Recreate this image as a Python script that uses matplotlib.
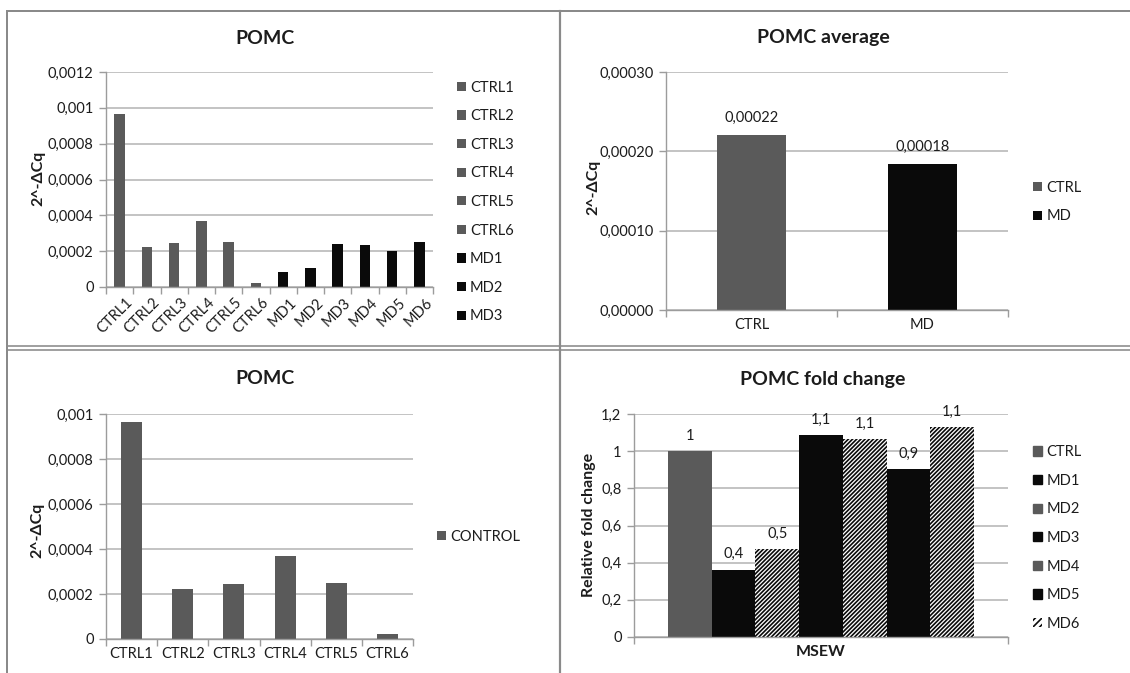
import matplotlib
matplotlib.use("Agg")
import matplotlib.pyplot as plt
from matplotlib.patches import Patch
from matplotlib.lines import Line2D
from matplotlib.transforms import ScaledTranslation
import numpy as np

# POMC expression per animal (2^-dCq)
samples = ["CTRL1", "CTRL2", "CTRL3", "CTRL4", "CTRL5", "CTRL6",
           "MD1", "MD2", "MD3", "MD4", "MD5", "MD6"]
expr = [0.000964, 0.000223, 0.000243, 0.000368, 0.000249, 0.0000223,
        0.0000817, 0.000104, 0.000240, 0.000236, 0.000202, 0.000251]

# group means
groups = ["CTRL", "MD"]
group_mean = [0.000221, 0.000184]

# control animals only
control_samples = ["CTRL1", "CTRL2", "CTRL3", "CTRL4", "CTRL5", "CTRL6"]
control_expr = [0.000964, 0.000223, 0.000243, 0.000368, 0.000249, 0.0000223]

# relative fold change, MSEW
fold_category = "MSEW"
fold_series = ["CTRL", "MD1", "MD2", "MD3", "MD4", "MD5", "MD6"]
fold_change = [1.0, 0.363, 0.471, 1.087, 1.065, 0.905, 1.128]

W, H = 1130, 673
plt.rcParams['font.family'] = ['Lato', 'DejaVu Sans']
plt.rcParams['hatch.linewidth'] = 1.2
fig = plt.figure(figsize=(W / 100, H / 100), dpi=100)
fig.patch.set_facecolor('white')

GREY = '#5a5a5a'
BLACK = '#0a0a0a'
GRID = '#b9b9b9'
AXIS = '#9c9c9c'
TXT = '#1c1c1c'
FRAME = '#8a8a8a'
FS = 10.5
HATCH = '/' * 8


def px_axes(x0, x1, ytop, ybot):
    return fig.add_axes([x0 / W, 1 - ybot / H, (x1 - x0) / W, (ybot - ytop) / H])


def fx(x):
    return x / W


def fy(y):
    return 1 - y / H


def style(ax, ncat):
    for s in ['top', 'right']:
        ax.spines[s].set_visible(False)
    for s in ['left', 'bottom']:
        ax.spines[s].set_color(AXIS)
        ax.spines[s].set_linewidth(1.0)
    ax.yaxis.grid(True, color=GRID, lw=1.2)
    ax.set_axisbelow(True)
    ax.tick_params(axis='y', length=5, width=1, color=AXIS, labelsize=FS,
                   labelcolor=TXT, pad=4)
    ax.tick_params(axis='x', which='major', length=0, labelsize=FS,
                   labelcolor=TXT, pad=6)
    ax.set_xticks(np.arange(-0.5, ncat), minor=True)
    ax.tick_params(axis='x', which='minor', length=5, width=1, color=AXIS)
    ax.set_xlim(-0.5, ncat - 0.5)


def general_fmt(v, nd):
    s = f"{v:.{nd}f}".rstrip('0').rstrip('.')
    return s.replace('.', ',')


def legend(ax, handles, labels, x, y):
    ax.legend(handles, labels, loc='center left',
              bbox_to_anchor=(fx(x), fy(y)), bbox_transform=fig.transFigure,
              frameon=False, fontsize=FS, handlelength=0.6, handleheight=0.6,
              handletextpad=0.3, labelspacing=1.0, borderpad=0, borderaxespad=0,
              labelcolor=TXT)


def ylabel(text, x, y):
    fig.text(fx(x), fy(y), text, rotation=90, ha='center', va='center',
             fontsize=11.5, fontweight='bold', color=TXT)


def title(text, x, y):
    fig.text(fx(x), fy(y), text, ha='center', va='center',
             fontsize=14, fontweight='bold', color=TXT)


# ---- top left: all animals ----
ax1 = px_axes(106, 433, 72, 287)
style(ax1, len(samples))
colors1 = [GREY if s.startswith('CTRL') else BLACK for s in samples]
bars1 = ax1.bar(np.arange(len(samples)), expr, width=0.38, color=colors1)
ax1.set_ylim(0, 0.0012)
ticks1 = np.arange(0, 0.00121, 0.0002)
ax1.set_yticks(ticks1)
ax1.set_yticklabels([general_fmt(v, 4) for v in ticks1])
ax1.set_xticks(np.arange(len(samples)))
ax1.set_xticklabels(samples, rotation=45, ha='right', rotation_mode='anchor')
for lab in ax1.get_xticklabels():
    lab.set_transform(lab.get_transform() + ScaledTranslation(6 / 100, 0, fig.dpi_scale_trans))
legend(ax1, list(bars1)[:9], samples[:9], 457, 202)
ylabel("2^-ΔCq", 38, 178)
title("POMC", 265, 38)

# ---- top right: group means ----
ax2 = px_axes(666, 1008, 72, 310)
style(ax2, len(groups))
bars2 = ax2.bar(np.arange(len(groups)), group_mean, width=0.40, color=[GREY, BLACK])
ax2.set_ylim(0, 0.0003)
ticks2 = np.arange(0, 0.000301, 0.0001)
ax2.set_yticks(ticks2)
ax2.set_yticklabels([f"{v:.5f}".replace('.', ',') for v in ticks2])
ax2.set_xticks(np.arange(len(groups)))
ax2.set_xticklabels(groups)
for xi, v in enumerate(group_mean):
    ax2.annotate(f"{v:.5f}".replace('.', ','), (xi, v), xytext=(0, 12),
                 textcoords='offset points', ha='center', va='center',
                 fontsize=FS, color=TXT)
legend(ax2, list(bars2), groups, 1033, 202)
ylabel("2^-ΔCq", 593, 187)
title("POMC average", 823, 38)

# ---- bottom left: controls ----
ax3 = px_axes(106, 413, 414, 639)
style(ax3, len(control_samples))
bars3 = ax3.bar(np.arange(len(control_samples)), control_expr, width=0.41, color=GREY)
ax3.set_ylim(0, 0.001)
ticks3 = np.arange(0, 0.00101, 0.0002)
ax3.set_yticks(ticks3)
ax3.set_yticklabels([general_fmt(v, 4) for v in ticks3])
ax3.set_xticks(np.arange(len(control_samples)))
ax3.set_xticklabels(control_samples)
legend(ax3, [bars3[0]], ["CONTROL"], 437, 537)
ylabel("2^-ΔCq", 37, 530)
title("POMC", 265, 378)

# ---- bottom right: fold change ----
ax4 = px_axes(634, 1008, 414, 637)
style(ax4, 1)
n = len(fold_series)
bw = 0.117
xpos = (np.arange(n) - (n - 1) / 2) * bw
hatched = dict(facecolor='white', edgecolor=BLACK, hatch=HATCH, linewidth=0)
styles4 = [dict(color=GREY), dict(color=BLACK), hatched, dict(color=BLACK),
           hatched, dict(color=BLACK), hatched]
for xi, v, st in zip(xpos, fold_change, styles4):
    ax4.bar(xi, v, width=bw, **st)
    ax4.annotate(general_fmt(v, 1), (xi, v), xytext=(0, 11),
                 textcoords='offset points', ha='center', va='center',
                 fontsize=FS, color=TXT)
ax4.set_ylim(0, 1.2)
ticks4 = np.arange(0, 1.21, 0.2)
ax4.set_yticks(ticks4)
ax4.set_yticklabels([general_fmt(v, 1) for v in ticks4])
ax4.set_xticks([0])
ax4.set_xticklabels([fold_category], fontweight='bold', fontsize=11.5)
leg_handles = [Patch(color=GREY), Patch(color=BLACK), Patch(color=GREY),
               Patch(color=BLACK), Patch(color=GREY), Patch(color=BLACK),
               Patch(facecolor='white', edgecolor=BLACK, hatch='/////', linewidth=0)]
legend(ax4, leg_handles, fold_series, 1033, 538)
ylabel("Relative fold change", 589, 525)
title("POMC fold change", 823, 380)

# ---- panel frame ----
for xs, ys, lw in [([7, 7], [11, 673], 2.0), ([7, 1130], [11, 11], 2.0),
                   ([560, 560], [11, 673], 2.2), ([7, 1130], [346, 346], 1.6),
                   ([7, 1130], [350, 350], 1.6)]:
    fig.add_artist(Line2D([fx(x) for x in xs], [fy(y) for y in ys],
                          color=FRAME, lw=lw * 0.72))

fig.savefig("out.png", dpi=100)
